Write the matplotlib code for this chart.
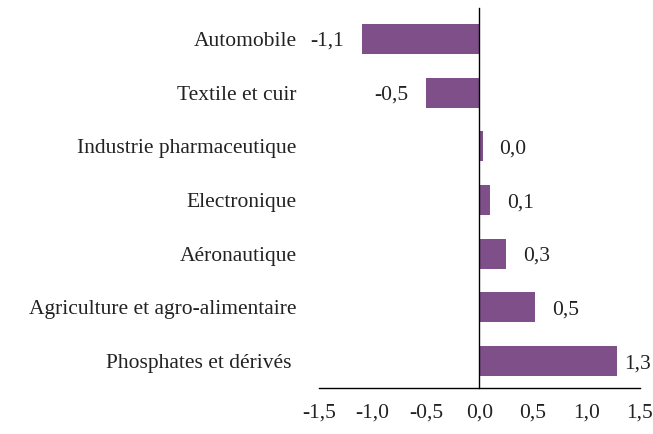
import matplotlib
matplotlib.use("Agg")
import matplotlib.pyplot as plt

categories = ["Phosphates et dérivés ", "Agriculture et agro-alimentaire", "Aéronautique",
              "Electronique", "Industrie pharmaceutique", "Textile et cuir", "Automobile"]
values = [1.29, 0.52, 0.25, 0.10, 0.03, -0.50, -1.10]
labels = ["1,3", "0,5", "0,3", "0,1", "0,0", "-0,5", "-1,1"]
xticks = [-1.5, -1.0, -0.5, 0.0, 0.5, 1.0, 1.5]

plt.rcParams['font.family'] = ['Liberation Serif', 'DejaVu Serif']
plt.rcParams['font.size'] = 15.5

fig = plt.figure(figsize=(6.53, 4.34), dpi=100)
ax = fig.add_axes([0.4885, 0.106, 0.4915, 0.866])

pos = range(len(categories))
ax.barh(pos, values, height=0.56, color="#7f4f8a")

for y, v, t in zip(pos, values, labels):
    if v >= 0:
        # Excel pulls the last label back inside the chart area
        dx = 5 if v > 1.2 else 12
        ax.annotate(t, (v, y), xytext=(dx, 0), textcoords="offset points",
                    ha="left", va="center_baseline", color="#222222")
    else:
        ax.annotate(t, (v, y), xytext=(-13, 0), textcoords="offset points",
                    ha="right", va="center_baseline", color="#222222")

ax.set_xlim(-1.5, 1.5)
ax.set_ylim(-0.5, 6.5)
ax.set_xticks(xticks)
ax.set_xticklabels([("%.1f" % t).replace(".", ",") for t in xticks])
ax.set_yticks(list(pos))
ax.set_yticklabels(categories)
ax.tick_params(axis="x", length=0, pad=11)
ax.tick_params(axis="y", length=0, pad=16)
for t in ax.get_xticklabels() + ax.get_yticklabels():
    t.set_color("#222222")

for s in ["top", "right", "left"]:
    ax.spines[s].set_visible(False)
ax.spines["bottom"].set_linewidth(1.0)
ax.axvline(0, color="black", linewidth=1.0, ymin=0, ymax=1.01, clip_on=False)

fig.savefig("out.png", dpi=100)
